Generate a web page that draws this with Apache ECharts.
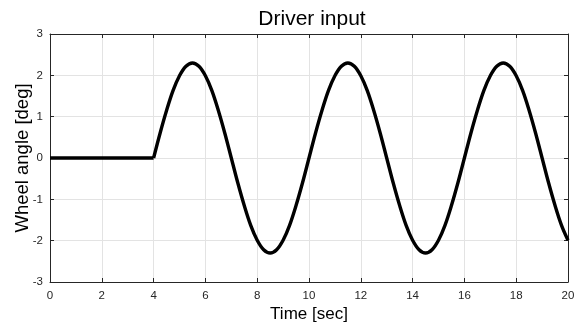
<!DOCTYPE html>
<html>
<head>
<meta charset="utf-8">
<script src="https://cdn.jsdelivr.net/npm/echarts@6/dist/echarts.min.js"></script>
<style>html,body{margin:0;padding:0;background:#fff}#c{width:582px;height:326px}</style>
</head>
<body>
<div id="c"></div>
<script>
var titleText = 'Driver input';
var xName = 'Time [sec]';
var yName = 'Wheel angle [deg]';
var xTicks = [0, 2, 4, 6, 8, 10, 12, 14, 16, 18, 20];
var yTicks = [-3, -2, -1, 0, 1, 2, 3];
var times = [0, 1, 2, 3, 4,
  4.25, 4.5, 4.75, 5, 5.25, 5.5, 5.75, 6, 6.25, 6.5, 6.75, 7,
  7.25, 7.5, 7.75, 8, 8.25, 8.5, 8.75, 9, 9.25, 9.5, 9.75, 10,
  10.25, 10.5, 10.75, 11, 11.25, 11.5, 11.75, 12, 12.25, 12.5, 12.75, 13,
  13.25, 13.5, 13.75, 14, 14.25, 14.5, 14.75, 15, 15.25, 15.5, 15.75, 16,
  16.25, 16.5, 16.75, 17, 17.25, 17.5, 17.75, 18, 18.25, 18.5, 18.75, 19,
  19.25, 19.5, 19.75, 20];
var angles = [0, 0, 0, 0, 0,
  0.60, 1.15, 1.63, 1.99, 2.22, 2.30, 2.22, 1.99, 1.63, 1.15, 0.60, 0,
  -0.60, -1.15, -1.63, -1.99, -2.22, -2.30, -2.22, -1.99, -1.63, -1.15, -0.60, 0,
  0.60, 1.15, 1.63, 1.99, 2.22, 2.30, 2.22, 1.99, 1.63, 1.15, 0.60, 0,
  -0.60, -1.15, -1.63, -1.99, -2.22, -2.30, -2.22, -1.99, -1.63, -1.15, -0.60, 0,
  0.60, 1.15, 1.63, 1.99, 2.22, 2.30, 2.22, 1.99, 1.63, 1.15, 0.60, 0,
  -0.60, -1.15, -1.63, -1.99];

var data = times.map(function (t, i) { return [t, angles[i]]; });
var startIdx = 4; // steering starts at t = 4 s (sharp corner)
var font = 'Liberation Sans, Arial, sans-serif';
var axisCol = '#262626';
var gridCol = '#e3e3e3';

var chart = echarts.init(document.getElementById('c'), null, {renderer: 'canvas'});
function xAxisCfg(pos, main) {
  return {
    type: 'value', position: pos, min: xTicks[0], max: xTicks[xTicks.length - 1], interval: 2,
    name: main ? xName : '', nameLocation: 'middle', nameGap: 32, nameMoveOverlap: false,
    nameTextStyle: {fontFamily: font, fontSize: 17, color: '#000', verticalAlign: 'middle'},
    axisLine: {show: true, onZero: false, lineStyle: {color: axisCol, width: 1}},
    axisTick: {show: true, inside: true, length: 4, lineStyle: {color: axisCol}},
    axisLabel: {show: main, fontFamily: font, fontSize: 11.5, color: '#262626', margin: 8},
    splitLine: {show: main, lineStyle: {color: gridCol, width: 1}}
  };
}
function yAxisCfg(pos, main) {
  return {
    type: 'value', position: pos, min: yTicks[0], max: yTicks[yTicks.length - 1], interval: 1,
    name: main ? yName : '', nameLocation: 'middle', nameGap: 27, nameMoveOverlap: false,
    nameTextStyle: {fontFamily: font, fontSize: 18.5, color: '#000', verticalAlign: 'middle'},
    axisLine: {show: true, onZero: false, lineStyle: {color: axisCol, width: 1}},
    axisTick: {show: true, inside: true, length: 4, lineStyle: {color: axisCol}},
    axisLabel: {show: main, fontFamily: font, fontSize: 11.5, color: '#262626', margin: 7},
    splitLine: {show: main, lineStyle: {color: gridCol, width: 1}}
  };
}
var lineStyle = {color: '#000', width: 3.4};
chart.setOption({
  backgroundColor: '#fff',
  animation: false,
  title: {
    text: titleText, left: 307, top: 4, textAlign: 'center',
    textStyle: {fontFamily: font, fontSize: 21, fontWeight: 'normal', color: '#000'}
  },
  grid: {left: 50, right: 14, top: 34, bottom: 44, containLabel: false, outerBoundsMode: 'none'},
  xAxis: [xAxisCfg('bottom', true), xAxisCfg('top', false)],
  yAxis: [yAxisCfg('left', true), yAxisCfg('right', false)],
  series: [{
    type: 'line', data: data.slice(0, startIdx + 1), xAxisIndex: 0, yAxisIndex: 0,
    smooth: false, showSymbol: false, lineStyle: lineStyle
  }, {
    type: 'line', data: data.slice(startIdx), xAxisIndex: 0, yAxisIndex: 0,
    smooth: 0.35, showSymbol: false, lineStyle: lineStyle
  }]
});
</script>
</body>
</html>
